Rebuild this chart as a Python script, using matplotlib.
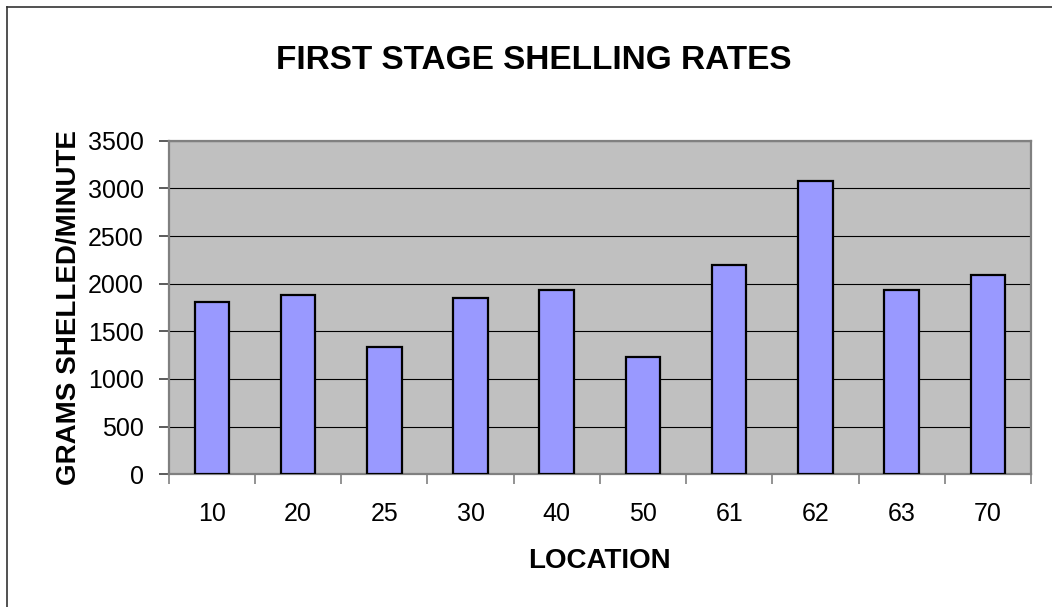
import numpy as np
import matplotlib
matplotlib.use("Agg")
import matplotlib.pyplot as plt
from matplotlib.lines import Line2D

# data
locations = ['10', '20', '25', '30', '40', '50', '61', '62', '63', '70']
rates = [1804, 1881, 1339, 1853, 1933, 1230, 2193, 3077, 1937, 2094]
y_ticks = [0, 500, 1000, 1500, 2000, 2500, 3000, 3500]

plt.rcParams['font.family'] = ['Liberation Sans', 'DejaVu Sans']

fig = plt.figure(figsize=(10.52, 6.07), dpi=100)
ax = fig.add_axes([0.1604, 0.2186, 0.8196, 0.5496])

x = np.arange(len(locations))

#grey plot area with black gridlines (excel style)
ax.set_facecolor('#C0C0C0')
ax.set_axisbelow(True)
ax.yaxis.grid(True, color='black', linewidth=0.8)

ax.bar(x, rates, width=0.4, color='#9999FF', edgecolor='black', linewidth=1.6, zorder=3)

ax.set_xlim(-0.5, len(locations) - 0.5)
ax.set_ylim(0, 3500)
ax.set_yticks(y_ticks)
ax.set_yticklabels([str(v) for v in y_ticks], fontsize=18)

#tick marks sit on category boundaries, labels on centres
ax.set_xticks(np.arange(len(locations) + 1) - 0.5)
ax.set_xticklabels([])
ax.set_xticks(x, minor=True)
ax.set_xticklabels(locations, minor=True, fontsize=18)
ax.tick_params(axis='x', which='major', length=7, width=1.2, color='#808080', direction='out')
ax.tick_params(axis='x', which='minor', length=0, pad=20)
ax.tick_params(axis='y', length=7, width=1.2, color='#404040', pad=11)

for s in ax.spines.values():
	s.set_color('#808080')
	s.set_linewidth(1.6)

fig.text(0.507, 0.900, 'FIRST STAGE SHELLING RATES', ha='center', va='center',
	fontsize=24, fontweight='bold')
fig.text(0.066, 0.494, 'GRAMS SHELLED/MINUTE', ha='center', va='center',
	rotation=90, fontsize=20, fontweight='bold')
fig.text(0.570, 0.076, 'LOCATION', ha='center', va='center',
	fontsize=20, fontweight='bold')

#chart border, only top and left edges are visible in the crop
fig.add_artist(Line2D([0.0067, 0.0067], [0.0, 0.9885], color='#333333', linewidth=1.2))
fig.add_artist(Line2D([0.0067, 1.0], [0.9885, 0.9885], color='#333333', linewidth=1.2))

fig.savefig('out.png', dpi=100)
